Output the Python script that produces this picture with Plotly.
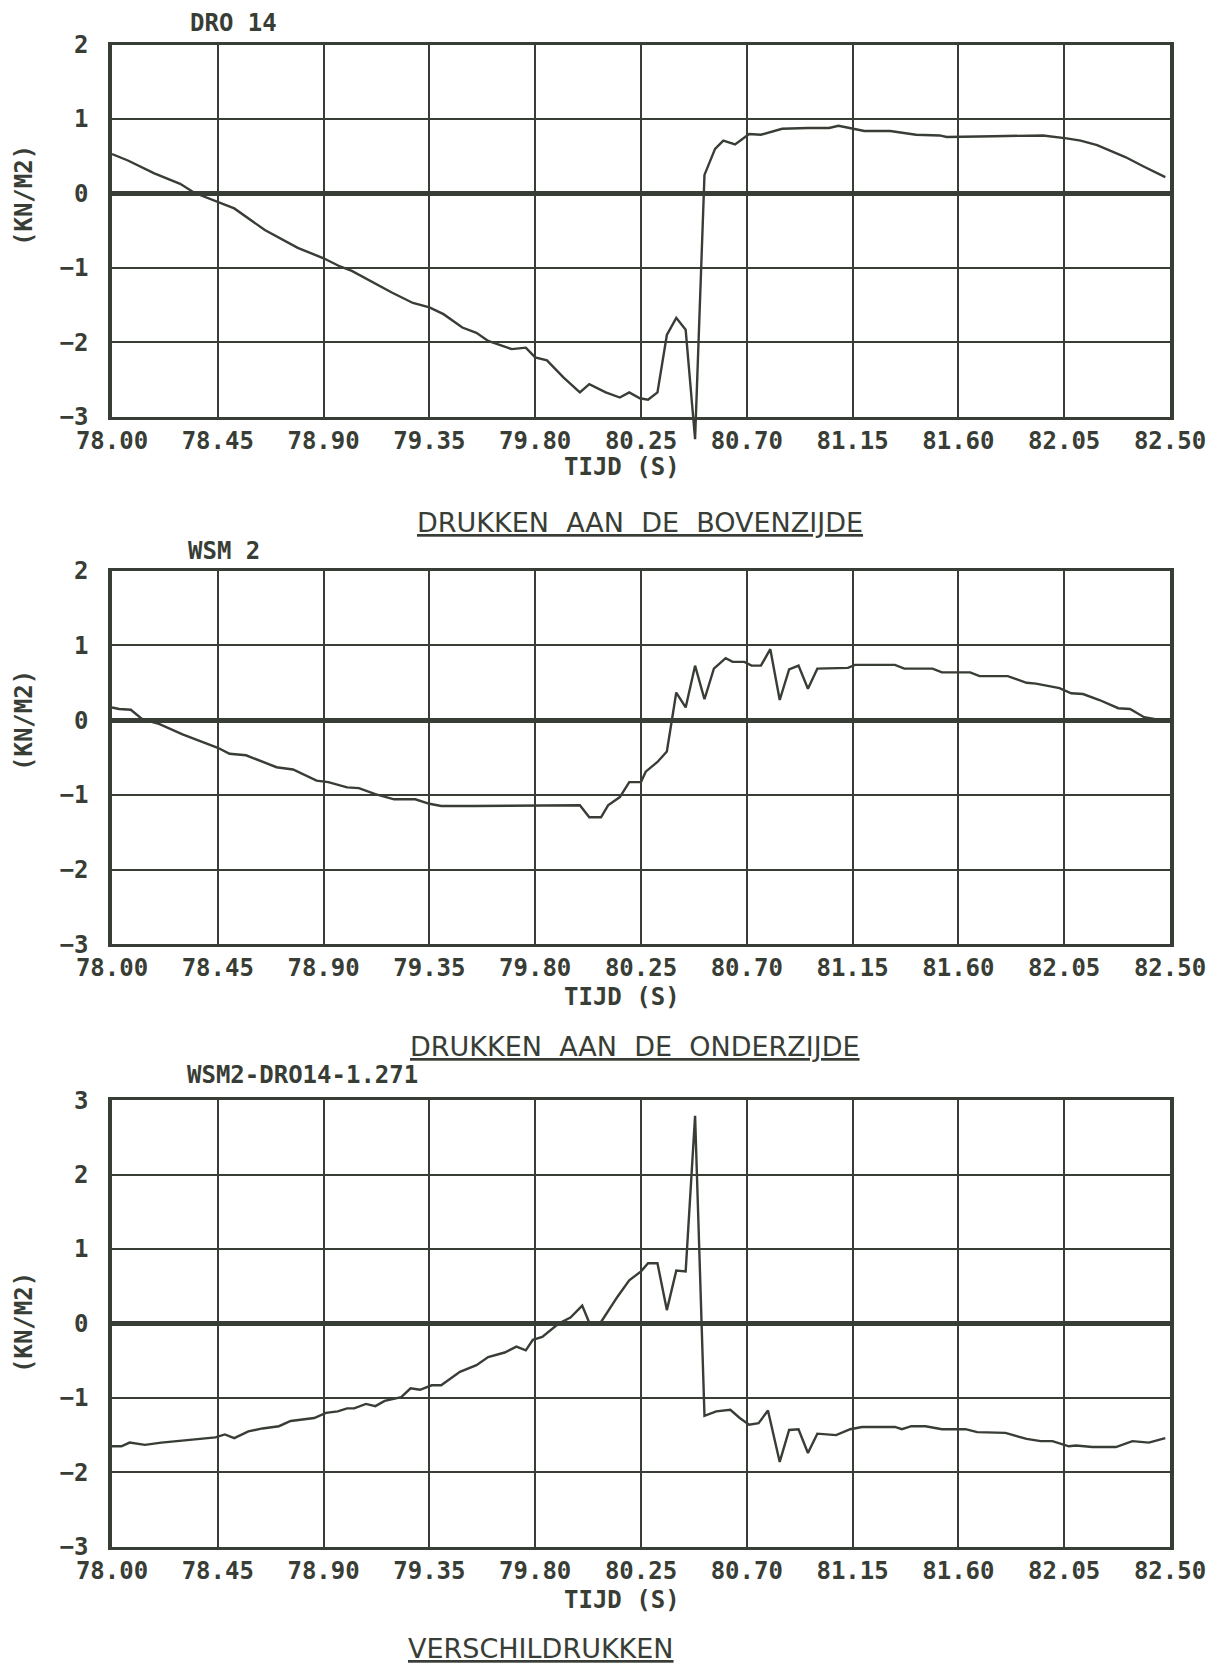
import plotly.graph_objects as go

C = "#383d36"

# ---------------- data ----------------
t_dro14 = [78.00, 78.07, 78.18, 78.29, 78.35, 78.445, 78.52, 78.65, 78.79, 78.90,
           78.97, 79.02, 79.09, 79.19, 79.28, 79.35, 79.41, 79.49, 79.55, 79.60,
           79.70, 79.76, 79.80, 79.85, 79.92, 79.99, 80.03, 80.07, 80.10, 80.16,
           80.20, 80.245, 80.28, 80.32, 80.36, 80.40, 80.44, 80.48, 80.52, 80.565,
           80.60, 80.65, 80.71, 80.76, 80.81, 80.85, 80.96, 81.05, 81.09, 81.15,
           81.20, 81.31, 81.42, 81.52, 81.55, 81.75, 81.96, 82.06, 82.12, 82.19,
           82.31, 82.39, 82.48]
p_dro14 = [0.53, 0.44, 0.27, 0.13, 0.01, -0.11, -0.20, -0.49, -0.73, -0.87,
           -0.98, -1.04, -1.16, -1.33, -1.47, -1.53, -1.62, -1.80, -1.87, -1.98,
           -2.09, -2.07, -2.20, -2.24, -2.47, -2.67, -2.56, -2.62, -2.67, -2.74,
           -2.67, -2.75, -2.77, -2.67, -1.90, -1.67, -1.83, -3.30, 0.25, 0.60,
           0.71, 0.66, 0.80, 0.79, 0.83, 0.87, 0.88, 0.88, 0.91, 0.87,
           0.84, 0.84, 0.79, 0.78, 0.76, 0.77, 0.78, 0.74, 0.71, 0.65,
           0.49, 0.36, 0.22]

t_wsm2 = [78.00, 78.03, 78.08, 78.13, 78.20, 78.30, 78.45, 78.50, 78.57, 78.70,
          78.77, 78.87, 78.92, 79.00, 79.05, 79.12, 79.20, 79.29, 79.35, 79.40,
          79.54, 79.79, 79.99, 80.03, 80.08, 80.11, 80.16, 80.20, 80.25, 80.27,
          80.32, 80.36, 80.38, 80.40, 80.44, 80.48, 80.52, 80.56, 80.61, 80.64,
          80.69, 80.72, 80.76, 80.80, 80.84, 80.88, 80.92, 80.96, 81.00, 81.08,
          81.13, 81.16, 81.25, 81.33, 81.37, 81.49, 81.53, 81.65, 81.69, 81.81,
          81.89, 81.93, 81.98, 82.03, 82.08, 82.13, 82.20, 82.28, 82.33, 82.39,
          82.48]
p_wsm2 = [0.17, 0.15, 0.14, 0.01, -0.05, -0.19, -0.37, -0.45, -0.47, -0.63,
          -0.66, -0.81, -0.83, -0.90, -0.91, -0.99, -1.06, -1.06, -1.12, -1.15,
          -1.15, -1.15, -1.14, -1.30, -1.30, -1.14, -1.03, -0.83, -0.83, -0.69,
          -0.56, -0.42, 0.00, 0.37, 0.17, 0.73, 0.28, 0.69, 0.83, 0.78,
          0.78, 0.73, 0.73, 0.95, 0.27, 0.68, 0.73, 0.42, 0.69, 0.69,
          0.70, 0.74, 0.74, 0.74, 0.69, 0.69, 0.64, 0.64, 0.59, 0.59,
          0.50, 0.49, 0.46, 0.43, 0.36, 0.35, 0.27, 0.16, 0.15, 0.04,
          -0.01]

t_diff = [78.00, 78.04, 78.075, 78.14, 78.21, 78.28, 78.38, 78.44, 78.48, 78.52,
          78.58, 78.64, 78.71, 78.76, 78.86, 78.91, 78.96, 79.00, 79.03, 79.08,
          79.12, 79.16, 79.23, 79.27, 79.31, 79.36, 79.40, 79.48, 79.55, 79.60,
          79.67, 79.72, 79.76, 79.79, 79.83, 79.90, 79.95, 80.00, 80.03, 80.08,
          80.15, 80.20, 80.25, 80.28, 80.32, 80.36, 80.40, 80.44, 80.48, 80.52,
          80.57, 80.63, 80.67, 80.71, 80.75, 80.79, 80.84, 80.88, 80.92, 80.96,
          81.00, 81.08, 81.14, 81.19, 81.33, 81.36, 81.40, 81.46, 81.53, 81.63,
          81.68, 81.80, 81.89, 81.95, 82.00, 82.07, 82.10, 82.17, 82.27, 82.34,
          82.41, 82.48]
p_diff = [-1.65, -1.65, -1.60, -1.63, -1.60, -1.58, -1.55, -1.53, -1.49, -1.54,
          -1.45, -1.41, -1.38, -1.31, -1.27, -1.20, -1.18, -1.14, -1.14, -1.08,
          -1.11, -1.04, -0.99, -0.87, -0.89, -0.83, -0.83, -0.65, -0.56, -0.45,
          -0.39, -0.31, -0.36, -0.22, -0.18, 0.00, 0.08, 0.24, 0.01, 0.02,
          0.36, 0.58, 0.70, 0.81, 0.81, 0.18, 0.71, 0.70, 2.79, -1.24,
          -1.18, -1.16, -1.27, -1.36, -1.34, -1.17, -1.86, -1.43, -1.42, -1.74,
          -1.48, -1.50, -1.42, -1.39, -1.39, -1.42, -1.38, -1.38, -1.42, -1.42,
          -1.46, -1.47, -1.55, -1.58, -1.58, -1.65, -1.64, -1.66, -1.66, -1.58,
          -1.60, -1.54]

x_ticks = [78.00, 78.45, 78.90, 79.35, 79.80, 80.25, 80.70, 81.15, 81.60, 82.05, 82.50]
x_labels = ["78.00", "78.45", "78.90", "79.35", "79.80", "80.25", "80.70",
            "81.15", "81.60", "82.05", "82.50"]
y_ticks_p = [-3, -2, -1, 0, 1, 2]
y_ticks_d = [-3, -2, -1, 0, 1, 2, 3]

NB = "\u00a0"
panel_names = ["DRO 14", "WSM 2", "WSM2-DRO14-1.271"]
captions = [f"DRUKKEN{NB}{NB}AAN{NB}{NB}DE{NB}{NB}BOVENZĲDE",
            f"DRUKKEN{NB}{NB}AAN{NB}{NB}DE{NB}{NB}ONDERZĲDE",
            "VERSCHILDRUKKEN"]
x_title = "TIJD (S)"
y_title = "(KN/M2)"

# ---------------- layout geometry (page pixels) ----------------
OFF = 8                      # the page body margin shifts the figure by this much
W, H = 1220 - OFF, 1663 - OFF

def px(x):
    return (x - OFF) / W

def py(y):
    return 1 - (y - OFF) / H

LEFT, RIGHT = 112, 1170
panels = [(44.6, 416.9, [-3, 2]), (570.8, 944.2, [-3, 2]), (1100.2, 1546.8, [-3, 3])]

TICKFONT = dict(family="DejaVu Sans Mono", size=24, color=C, weight="bold")
CAPFONT = dict(family="DejaVu Sans", size=27, color=C)

fig = go.Figure()
layout = dict(width=W, height=H, margin=dict(l=0, r=0, t=0, b=0, autoexpand=False),
              paper_bgcolor="white", plot_bgcolor="rgba(0,0,0,0)", showlegend=False)

series = [(t_dro14, p_dro14), (t_wsm2, p_wsm2), (t_diff, p_diff)]
for i, (top, bot, yr) in enumerate(panels):
    n = i + 1
    xk = "xaxis" if n == 1 else f"xaxis{n}"
    yk = "yaxis" if n == 1 else f"yaxis{n}"
    xr = "x" if n == 1 else f"x{n}"
    yrf = "y" if n == 1 else f"y{n}"
    layout[xk] = dict(domain=[px(LEFT), px(RIGHT)], range=[78, 82.5], anchor=yrf,
                      tickvals=x_ticks, ticktext=x_labels, showgrid=True,
                      gridcolor=C, gridwidth=2, showline=True, linecolor=C,
                      linewidth=3, mirror=True, ticks="", zeroline=False,
                      tickfont=TICKFONT, fixedrange=True, ticklabelstandoff=0,
                      automargin=False)
    layout[yk] = dict(domain=[py(bot), py(top)], range=yr, anchor=xr,
                      tickvals=y_ticks_p if n < 3 else y_ticks_d,
                      showgrid=True, gridcolor=C, gridwidth=2, showline=True,
                      linecolor=C, linewidth=3.5, mirror=True, ticks="",
                      zeroline=True, zerolinecolor=C, zerolinewidth=5,
                      tickfont=TICKFONT, ticklabelstandoff=15, fixedrange=True,
                      automargin=False)
    t, p = series[i]
    # panel 1 is drawn on an extended overlay subplot (its spike passes below the frame)
    fig.add_trace(go.Scatter(x=t, y=p, mode="lines", xaxis=xr, yaxis=yrf,
                             line=dict(color=C, width=2.4), hoverinfo="skip",
                             opacity=0 if n == 1 else 1))

# extended transparent subplot for panel 1 (same scale, reaches below the frame)
top, bot, yr = panels[0]
ext_units = 0.45
unit = (bot - top) / (yr[1] - yr[0])
layout["xaxis4"] = dict(domain=[px(LEFT), px(RIGHT)], range=[78, 82.5],
                        anchor="y4", visible=False, fixedrange=True, automargin=False)
layout["yaxis4"] = dict(domain=[py(bot + ext_units * unit), py(top)],
                        range=[yr[0] - ext_units, yr[1]], anchor="x4",
                        visible=False, fixedrange=True, automargin=False)
fig.add_trace(go.Scatter(x=t_dro14, y=p_dro14, mode="lines", xaxis="x4", yaxis="y4",
                         line=dict(color=C, width=2.4), hoverinfo="skip"))

# texts
annotations = []
name_pos = [(233, 23), (224, 551), (302, 1075)]
xt_pos = [(622, 467), (622, 997), (622, 1600)]
cap_pos = [(640, 523), (635, 1046), (541, 1648)]
zero_y = [196, 721, 1323]
for i in range(3):
    annotations.append(dict(text=panel_names[i], x=px(name_pos[i][0]), y=py(name_pos[i][1]),
                            xref="paper", yref="paper", showarrow=False,
                            xanchor="center", yanchor="middle", font=TICKFONT))
    annotations.append(dict(text=x_title, x=px(xt_pos[i][0]), y=py(xt_pos[i][1]),
                            xref="paper", yref="paper", showarrow=False,
                            xanchor="center", yanchor="middle", font=TICKFONT))
    annotations.append(dict(text="<u>" + captions[i] + "</u>", x=px(cap_pos[i][0]),
                            y=py(cap_pos[i][1]), xref="paper", yref="paper",
                            showarrow=False, xanchor="center", yanchor="middle",
                            font=CAPFONT))
    annotations.append(dict(text=y_title, x=px(24), y=py(zero_y[i]), xref="paper",
                            yref="paper", showarrow=False, textangle=-90,
                            xanchor="center", yanchor="middle", font=TICKFONT))

layout["annotations"] = annotations
fig.update_layout(**layout)
fig.write_html("out.html")
